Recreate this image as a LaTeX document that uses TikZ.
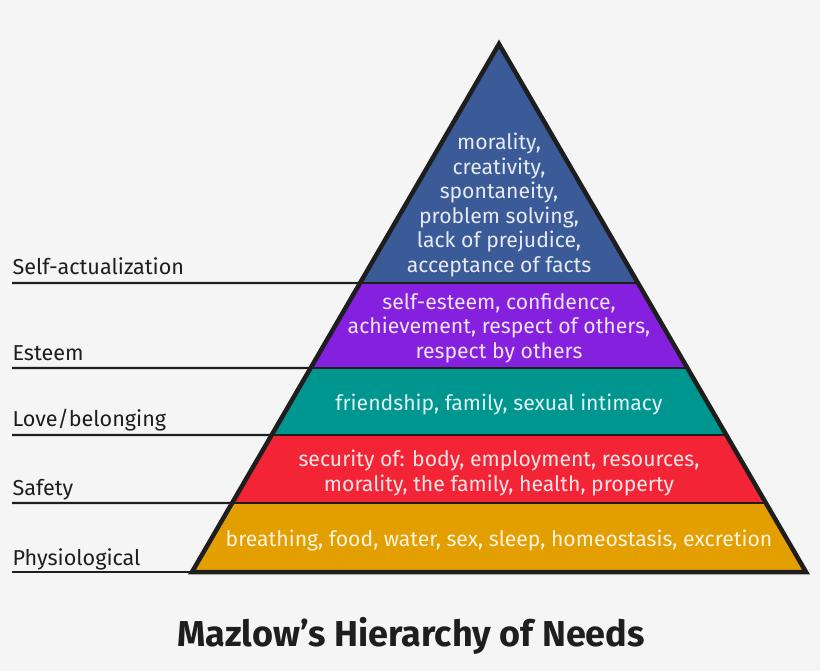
\documentclass[tikz,border=0pt]{standalone}
\usepackage{fontspec}
\setmainfont{Fira Sans}
\usepackage{xcolor}
\usetikzlibrary{calc}

\definecolor{bgcol}{HTML}{F5F5F5}
\definecolor{selfcol}{HTML}{3A5A98}
\definecolor{esteemcol}{HTML}{8520DF}
\definecolor{lovecol}{HTML}{009690}
\definecolor{safetycol}{HTML}{F22435}
\definecolor{physcol}{HTML}{E39F00}
\definecolor{inkcol}{HTML}{1E1E1E}

\tikzset{
  needtext/.style={text=white, text opacity=0.88, align=center, font=\fontsize{21.2}{24.5}\selectfont},
  levellabel/.style={text=inkcol, anchor=base west, font=\fontsize{21.6}{24}\selectfont},
  levelline/.style={inkcol, line width=2.2pt},
  layerline/.style={inkcol, line width=2.6pt}
}

\begin{document}
\begin{tikzpicture}[x=1pt, y=-1pt]
  \fill[bgcol] (0,0) rectangle (820,671);
  \useasboundingbox (0,0) rectangle (820,671);
  % corners of the pyramid
  \coordinate (apex) at (499,44);
  \coordinate (bl) at (192,572);
  \coordinate (br) at (806,572);
  % left and right ends of the layer borders
  \coordinate (l1) at ($(apex)!0.4527!(bl)$);
  \coordinate (r1) at ($(apex)!0.4527!(br)$);
  \coordinate (l2) at ($(apex)!0.6136!(bl)$);
  \coordinate (r2) at ($(apex)!0.6136!(br)$);
  \coordinate (l3) at ($(apex)!0.7405!(bl)$);
  \coordinate (r3) at ($(apex)!0.7405!(br)$);
  \coordinate (l4) at ($(apex)!0.8693!(bl)$);
  \coordinate (r4) at ($(apex)!0.8693!(br)$);
  % the five layers
  \fill[selfcol] (apex) -- (r1) -- (l1) -- cycle;
  \fill[esteemcol] (l1) -- (r1) -- (r2) -- (l2) -- cycle;
  \fill[lovecol] (l2) -- (r2) -- (r3) -- (l3) -- cycle;
  \fill[safetycol] (l3) -- (r3) -- (r4) -- (l4) -- cycle;
  \fill[physcol] (l4) -- (r4) -- (br) -- (bl) -- cycle;
  % lines to the left labels
  \coordinate (e1) at (12,283);
  \coordinate (e2) at (12,368);
  \coordinate (e3) at (12,435);
  \coordinate (e4) at (12,503);
  \coordinate (e5) at (12,572);
  \draw[levelline] (e1) -- (l1);
  \draw[levelline] (e2) -- (l2);
  \draw[levelline] (e3) -- (l3);
  \draw[levelline] (e4) -- (l4);
  \draw[levelline] (e5) -- (bl);
  \draw[layerline] (l1) -- (r1);
  \draw[layerline] (l2) -- (r2);
  \draw[layerline] (l3) -- (r3);
  \draw[layerline] (l4) -- (r4);
  \draw[inkcol, line width=4.5pt, line join=miter] (apex) -- (br) -- (bl) -- cycle;
  % texts inside the layers
  \node[needtext] (selftext) at (499,205) {morality,\\creativity,\\spontaneity,\\problem solving,\\lack of prejudice,\\acceptance of facts};
  \node[needtext] (esteemtext) at (499,328) {self-esteem, confidence,\\achievement, respect of others,\\respect by others};
  \node[needtext] (lovetext) at (499,404) {friendship, family, sexual intimacy};
  \node[needtext] (safetytext) at (499,473) {security of: body, employment, resources,\\morality, the family, health, property};
  \node[needtext] (phystext) at (499,540) {breathing, food, water, sex, sleep, homeostasis, excretion};
  % labels on the left
  \node[levellabel] (selflabel) at (9,275) {Self-actualization};
  \node[levellabel] (esteemlabel) at (9,360) {Esteem};
  \node[levellabel] (lovelabel) at (9,426) {Love/belonging};
  \node[levellabel] (safetylabel) at (9,495) {Safety};
  \node[levellabel] (physlabel) at (9,565) {Physiological};
  \node[text=inkcol, font=\fontsize{36}{40}\bfseries\selectfont] (title) at (411,636) {Mazlow’s Hierarchy of Needs};
\end{tikzpicture}
\end{document}
